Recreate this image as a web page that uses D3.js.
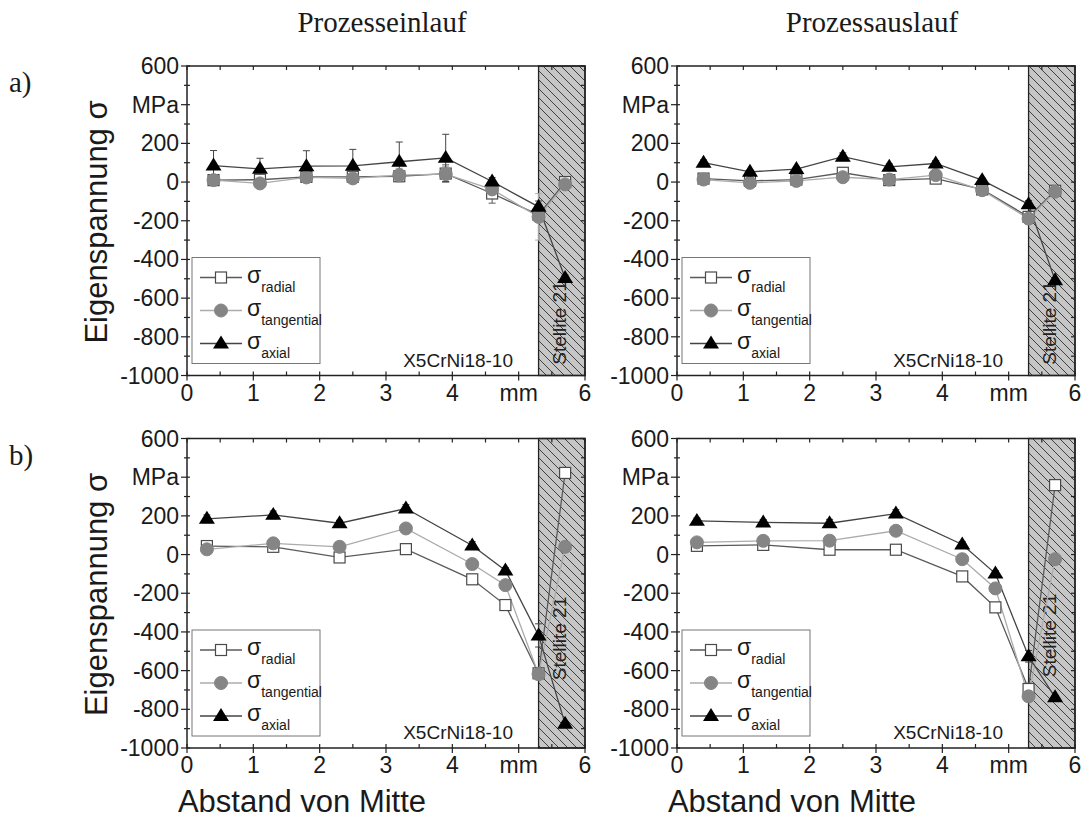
<!DOCTYPE html>
<html>
<head>
<meta charset="utf-8">
<script src="https://cdn.jsdelivr.net/npm/d3@7"></script>
<style>
  body { margin: 0; background: #fff; }
  svg { display: block; }
</style>
</head>
<body>
<div id="chart"></div>
<script>
// distances from center (mm)
const xA = [0.4, 1.1, 1.8, 2.5, 3.2, 3.9, 4.6, 5.3, 5.7];
const xB = [0.3, 1.3, 2.3, 3.3, 4.3, 4.8, 5.3, 5.7];

// a) Prozesseinlauf
const aInRadial = [10, 12, 27, 27, 30, 44, -59, -170, 0];
const aInTangential = [10, -7, 24, 19, 36, 41, -38, -180, -12];
const aInAxial = [85, 68, 82, 84, 105, 125, 3, -128, -496];
const aInRadialErr = [20, 15, 20, 20, 20, 45, 50, 30, 15];
const aInTangentialErr = [20, 15, 20, 20, 35, 40, 20, 120, 15];
const aInAxialErr = [78, 55, 80, 85, 102, 122, 20, 30, 15];

// a) Prozessauslauf
const aOutRadial = [18, 6, 13, 48, 10, 18, -38, -180, -45];
const aOutTangential = [13, -4, 6, 25, 13, 36, -42, -189, -50];
const aOutAxial = [100, 53, 67, 131, 79, 96, 10, -115, -508];
const aOutRadialErr = [15, 10, 12, 25, 15, 15, 15, 20, 10];
const aOutTangentialErr = [10, 10, 10, 15, 10, 20, 15, 20, 10];
const aOutAxialErr = [15, 10, 10, 20, 15, 15, 10, 20, 10];

// b) Prozesseinlauf
const bInRadial = [44, 40, -15, 28, -128, -261, -614, 422];
const bInTangential = [27, 58, 40, 135, -49, -158, -618, 40];
const bInAxial = [185, 205, 162, 238, 47, -82, -418, -875];
const bInRadialErr = [15, 15, 15, 20, 20, 20, 30, 10];
const bInTangentialErr = [10, 10, 10, 10, 10, 10, 30, 10];
const bInAxialErr = [20, 20, 15, 20, 20, 15, 60, 10];

// b) Prozessauslauf
const bOutRadial = [45, 50, 25, 25, -113, -273, -695, 359];
const bOutTangential = [63, 71, 72, 123, -24, -175, -733, -24];
const bOutAxial = [174, 166, 162, 212, 52, -98, -526, -738];
const bOutRadialErr = [10, 10, 10, 15, 20, 15, 30, 10];
const bOutTangentialErr = [10, 10, 10, 10, 10, 10, 20, 10];
const bOutAxialErr = [15, 15, 20, 20, 15, 15, 30, 10];

const yTicks = [600, 400, 200, 0, -200, -400, -600, -800, -1000];
const yTickLabels = ["600", "MPa", "200", "0", "-200", "-400", "-600", "-800", "-1000"];
const xTicks = [0, 1, 2, 3, 4, 5, 6];
const xTickLabels = ["0", "1", "2", "3", "4", "mm", "6"];
const stelliteStart = 5.3;

const columnTitles = ["Prozesseinlauf", "Prozessauslauf"];
const rowLabels = ["a)", "b)"];
const seriesNames = ["radial", "tangential", "axial"];

const panels = [
    { row: 0, col: 0, x: xA, series: [aInRadial, aInTangential, aInAxial], err: [aInRadialErr, aInTangentialErr, aInAxialErr], stelliteY: 257 },
    { row: 0, col: 1, x: xA, series: [aOutRadial, aOutTangential, aOutAxial], err: [aOutRadialErr, aOutTangentialErr, aOutAxialErr], stelliteY: 257 },
    { row: 1, col: 0, x: xB, series: [bInRadial, bInTangential, bInAxial], err: [bInRadialErr, bInTangentialErr, bInAxialErr], stelliteY: 200 },
    { row: 1, col: 1, x: xB, series: [bOutRadial, bOutTangential, bOutAxial], err: [bOutRadialErr, bOutTangentialErr, bOutAxialErr], stelliteY: 197 }
];

const width = 1083, height = 826;
const colLeft = [187, 677];
const rowTop = [66, 438.5];
const pw = 398, ph = 309.5;

const sans = "'Liberation Sans', Arial, sans-serif";
const serif = "'Liberation Serif', 'Times New Roman', serif";

const styles = [
    { line: "#5a5a5a", fill: "#ffffff", stroke: "#4a4a4a", shape: "square" },
    { line: "#ababab", fill: "#858585", stroke: "#858585", shape: "circle" },
    { line: "#444444", fill: "#000000", stroke: "#000000", shape: "triangle" }
];

const svg = d3.select("#chart").append("svg")
    .attr("width", width)
    .attr("height", height);

// hatch pattern
const hs = 9;
const defs = svg.append("defs");
const pat = defs.append("pattern")
    .attr("id", "hatch")
    .attr("patternUnits", "userSpaceOnUse")
    .attr("width", hs)
    .attr("height", hs);
pat.append("rect").attr("width", hs).attr("height", hs).attr("fill", "#c6c6c6");
pat.append("path")
    .attr("d", `M-1,-1 L${hs + 1},${hs + 1} M${-hs - 1},-1 L1,${hs + 1} M${hs - 1},-1 L${2 * hs + 1},${hs + 1}`)
    .attr("stroke", "#404040")
    .attr("stroke-width", 1);

function marker(g, shape, cx, cy, st) {
    if (shape === "square") {
        g.append("rect").attr("x", cx - 5.5).attr("y", cy - 5.5).attr("width", 11).attr("height", 11)
            .attr("fill", st.fill).attr("stroke", st.stroke).attr("stroke-width", 1.2);
    } else if (shape === "circle") {
        g.append("circle").attr("cx", cx).attr("cy", cy).attr("r", 6.5)
            .attr("fill", st.fill).attr("stroke", st.stroke);
    } else {
        const s = 8;
        g.append("path")
            .attr("d", `M${cx},${cy - s} L${cx + s},${cy + s * 0.62} L${cx - s},${cy + s * 0.62} Z`)
            .attr("fill", st.fill);
    }
}

panels.forEach(p => {
    const left = colLeft[p.col], top = rowTop[p.row];
    const x = d3.scaleLinear().domain([0, 6]).range([left, left + pw]);
    const y = d3.scaleLinear().domain([-1000, 600]).range([top + ph, top]);
    const g = svg.append("g");

    // Stellite region
    g.append("rect")
        .attr("x", x(stelliteStart))
        .attr("y", y(600))
        .attr("width", x(6) - x(stelliteStart))
        .attr("height", y(-1000) - y(600))
        .attr("fill", "url(#hatch)")
        .attr("stroke", "#222")
        .attr("stroke-width", 1.3);

    g.append("text")
        .attr("transform", `translate(${x(5.72)},${top + p.stelliteY}) rotate(-90)`)
        .attr("text-anchor", "middle")
        .attr("font-family", sans)
        .attr("font-size", 19)
        .attr("fill", "#222")
        .text("Stellite 21");

    // error bars
    p.series.forEach((vals, si) => {
        const st = styles[si];
        vals.forEach((v, i) => {
            const e = p.err[si][i];
            const cx = x(p.x[i]);
            g.append("line").attr("x1", cx).attr("x2", cx)
                .attr("y1", y(v - e)).attr("y2", y(v + e))
                .attr("stroke", st.line).attr("stroke-width", 1);
            [v - e, v + e].forEach(ev => {
                g.append("line").attr("x1", cx - 3.5).attr("x2", cx + 3.5)
                    .attr("y1", y(ev)).attr("y2", y(ev))
                    .attr("stroke", st.line).attr("stroke-width", 1);
            });
        });
    });

    // lines
    const lineGen = d3.line().x(d => x(d[0])).y(d => y(d[1]));
    p.series.forEach((vals, si) => {
        g.append("path")
            .attr("d", lineGen(vals.map((v, i) => [p.x[i], v])))
            .attr("fill", "none")
            .attr("stroke", styles[si].line)
            .attr("stroke-width", 1.3);
    });

    // markers
    p.series.forEach((vals, si) => {
        vals.forEach((v, i) => marker(g, styles[si].shape, x(p.x[i]), y(v), styles[si]));
    });

    // frame
    g.append("rect")
        .attr("x", left).attr("y", top).attr("width", pw).attr("height", ph)
        .attr("fill", "none").attr("stroke", "#222").attr("stroke-width", 1.5);

    // y ticks
    d3.range(-1000, 601, 100).forEach(v => {
        const major = v % 200 === 0;
        g.append("line")
            .attr("x1", major ? left - 6 : left - 3).attr("x2", left + 3)
            .attr("y1", y(v)).attr("y2", y(v))
            .attr("stroke", "#222").attr("stroke-width", 1.2);
        g.append("line")
            .attr("x1", left + pw - 4).attr("x2", left + pw)
            .attr("y1", y(v)).attr("y2", y(v))
            .attr("stroke", "#222").attr("stroke-width", 1.2);
    });
    yTicks.forEach((v, i) => {
        g.append("text")
            .attr("x", left - 8).attr("y", y(v) + 8)
            .attr("text-anchor", "end")
            .attr("font-family", sans).attr("font-size", 23)
            .attr("fill", "#1a1a1a")
            .text(yTickLabels[i]);
    });

    // x ticks
    d3.range(0, 6.01, 0.5).forEach(v => {
        const major = Math.abs(v - Math.round(v)) < 1e-6;
        g.append("line")
            .attr("x1", x(v)).attr("x2", x(v))
            .attr("y1", top + ph - 4).attr("y2", top + ph + (major ? 5 : 0))
            .attr("stroke", "#222").attr("stroke-width", 1.2);
        g.append("line")
            .attr("x1", x(v)).attr("x2", x(v))
            .attr("y1", top).attr("y2", top + 4)
            .attr("stroke", "#222").attr("stroke-width", 1.2);
    });
    xTicks.forEach((v, i) => {
        g.append("text")
            .attr("x", x(v)).attr("y", top + ph + 25)
            .attr("text-anchor", "middle")
            .attr("font-family", sans).attr("font-size", 23)
            .attr("fill", "#1a1a1a")
            .text(xTickLabels[i]);
    });

    // material label
    g.append("text")
        .attr("x", left + 326).attr("y", top + ph - 9)
        .attr("text-anchor", "end")
        .attr("font-family", sans).attr("font-size", 19)
        .attr("fill", "#1a1a1a")
        .text("X5CrNi18-10");

    // legend
    const lx = left + 5, ly = top + ph - 118;
    const lg = g.append("g");
    lg.append("rect")
        .attr("x", lx).attr("y", ly).attr("width", 128).attr("height", 106)
        .attr("fill", "#fff").attr("stroke", "#777").attr("stroke-width", 1);
    seriesNames.forEach((name, si) => {
        const ry = ly + 20 + si * 33;
        const st = styles[si];
        lg.append("line")
            .attr("x1", lx + 8).attr("x2", lx + 50)
            .attr("y1", ry).attr("y2", ry)
            .attr("stroke", st.line).attr("stroke-width", 1.3);
        marker(lg, st.shape, lx + 29, ry, st);
        const t = lg.append("text")
            .attr("x", lx + 55).attr("y", ry + 5)
            .attr("font-family", sans).attr("font-size", 23)
            .attr("fill", "#1a1a1a");
        t.append("tspan").text("σ");
        t.append("tspan").attr("dy", 9).attr("font-size", 14).text(name);
    });
});

// column titles
columnTitles.forEach((t, i) => {
    svg.append("text")
        .attr("x", colLeft[i] + pw / 2 - 4).attr("y", 32)
        .attr("text-anchor", "middle")
        .attr("font-family", serif).attr("font-size", 29)
        .attr("fill", "#1a1a1a")
        .text(t);
});

// row labels
rowLabels.forEach((t, i) => {
    svg.append("text")
        .attr("x", 9).attr("y", rowTop[i] + 26)
        .attr("font-family", serif).attr("font-size", 29)
        .attr("fill", "#1a1a1a")
        .text(t);
});

// y axis titles
rowTop.forEach(top => {
    svg.append("text")
        .attr("transform", `translate(107,${top + 156}) rotate(-90)`)
        .attr("text-anchor", "middle")
        .attr("font-family", sans).attr("font-size", 31)
        .attr("fill", "#1a1a1a")
        .text("Eigenspannung σ");
});

// x axis titles
colLeft.forEach(left => {
    svg.append("text")
        .attr("x", left + 115).attr("y", 812)
        .attr("text-anchor", "middle")
        .attr("font-family", sans).attr("font-size", 31)
        .attr("fill", "#1a1a1a")
        .text("Abstand von Mitte");
});
</script>
</body>
</html>
